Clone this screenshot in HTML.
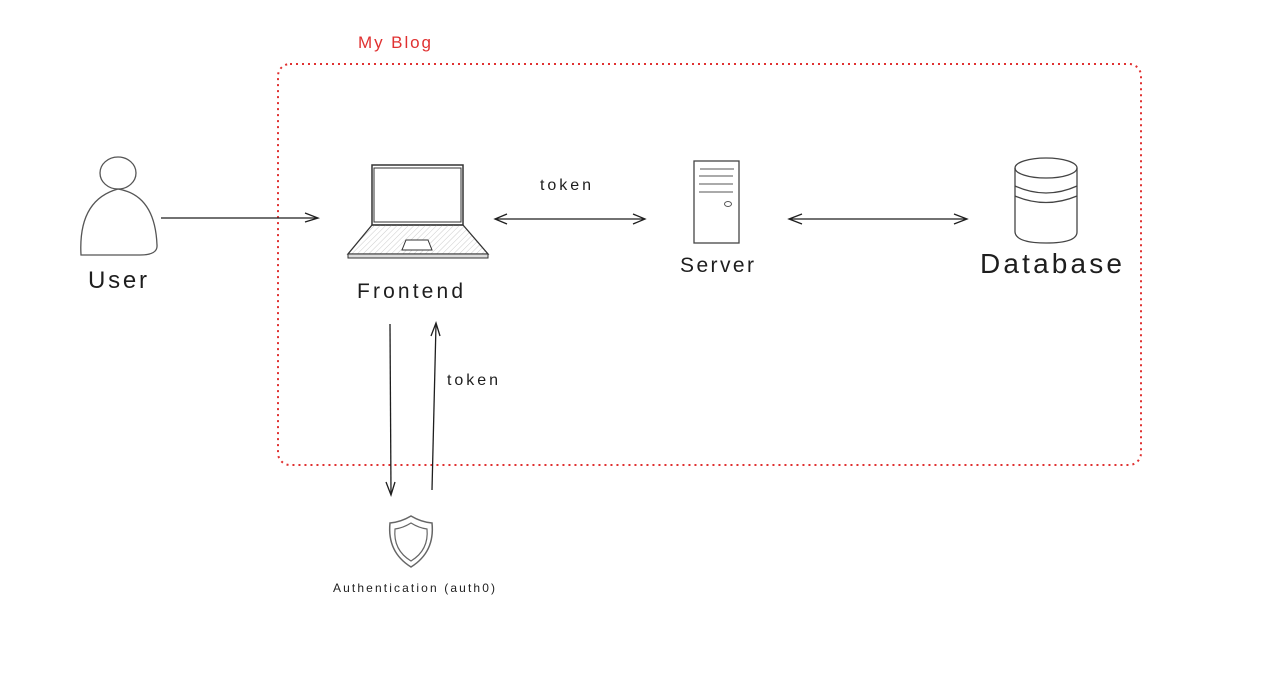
<!DOCTYPE html>
<html><head><meta charset="utf-8"><style>
html,body{margin:0;padding:0;background:#fff;width:1270px;height:684px;overflow:hidden}
text{font-family:"Liberation Sans",sans-serif;fill:#1e1e1e}
</style></head><body>
<svg width="1270" height="684" viewBox="0 0 1270 684" xmlns="http://www.w3.org/2000/svg">
<defs>
<pattern id="h" width="4" height="4" patternUnits="userSpaceOnUse" patternTransform="rotate(45)"><line x1="0" y1="0" x2="0" y2="4" stroke="#ccc" stroke-width="1"/></pattern>
</defs>
<text x="358" y="48" font-size="17" textLength="73" style="fill:#e03131">My Blog</text>
<rect x="278" y="64" width="863" height="401" rx="12" fill="none" stroke="#e03131" stroke-width="2" stroke-dasharray="2,4"/>
<ellipse cx="118" cy="173" rx="18" ry="16" fill="none" stroke="#555" stroke-width="1.3"/>
<path d="M81 255 Q78 200 118 189 Q155 195 157 245 Q158 255 140 255 Z" fill="none" stroke="#555" stroke-width="1.3"/>
<text x="88" y="288" font-size="24" textLength="59">User</text>
<line x1="161" y1="218" x2="316" y2="218" stroke="#1e1e1e" stroke-width="1.3"/>
<path d="M305 213 L318 218 L305 222" fill="none" stroke="#1e1e1e" stroke-width="1.3"/>
<rect x="372" y="165" width="91" height="60" fill="#fff" stroke="#333" stroke-width="1.5"/>
<rect x="374" y="168" width="87" height="54" fill="none" stroke="#333" stroke-width="1"/>
<path d="M372 225 L463 225 L488 254 L348 254 Z" fill="url(#h)" stroke="#333" stroke-width="1.3"/>
<rect x="348" y="254" width="140" height="4" fill="#ddd" stroke="#333" stroke-width="1"/>
<path d="M406 240 L428 240 L432 250 L402 250 Z" fill="#fff" stroke="#333"/>
<text x="357" y="298" font-size="21" textLength="106">Frontend</text>
<text x="540" y="190" font-size="16" textLength="51">token</text>
<line x1="496" y1="219" x2="644" y2="219" stroke="#1e1e1e" stroke-width="1.3"/>
<path d="M507 214 L495 219 L507 224 M633 214 L645 219 L633 224" fill="none" stroke="#1e1e1e" stroke-width="1.3"/>
<rect x="694" y="161" width="45" height="82" fill="none" stroke="#444" stroke-width="1.3"/>
<path d="M700 169H734M699 176H733M699 184H733M699 192H733" stroke="#555" stroke-width="1"/>
<ellipse cx="728" cy="204" rx="3.5" ry="2.5" fill="none" stroke="#555"/>
<text x="680" y="272" font-size="21" textLength="74">Server</text>
<line x1="790" y1="219" x2="966" y2="219" stroke="#1e1e1e" stroke-width="1.3"/>
<path d="M802 214 L789 219 L802 224 M954 214 L967 219 L954 224" fill="none" stroke="#1e1e1e" stroke-width="1.3"/>
<path d="M1015 168 L1015 232 Q1016 243 1046 243 Q1077 243 1077 232 L1077 168" fill="none" stroke="#444" stroke-width="1.3"/>
<ellipse cx="1046" cy="168" rx="31" ry="10" fill="none" stroke="#444" stroke-width="1.3"/>
<path d="M1015 186 Q1046 200 1077 186 M1015 196 Q1046 209 1077 196" fill="none" stroke="#444" stroke-width="1.3"/>
<text x="980" y="273" font-size="28" textLength="142">Database</text>
<line x1="390" y1="324" x2="391" y2="494" stroke="#1e1e1e" stroke-width="1.3"/>
<path d="M386 482 L391 495 L395 482" fill="none" stroke="#1e1e1e" stroke-width="1.3"/>
<line x1="432" y1="490" x2="436" y2="324" stroke="#1e1e1e" stroke-width="1.3"/>
<path d="M431 336 L436 323 L440 336" fill="none" stroke="#1e1e1e" stroke-width="1.3"/>
<text x="447" y="385" font-size="16" textLength="51">token</text>
<path d="M390 523 Q401 522 411 516 Q421 522 432 523 Q435 552 411 567 Q387 552 390 523 Z" fill="none" stroke="#666" stroke-width="1.5"/>
<path d="M395 529 Q403 528 411 523 Q419 528 427 529 Q429 550 411 561 Q393 550 395 529 Z" fill="none" stroke="#666" stroke-width="1.2"/>
<text x="333" y="592" font-size="12" textLength="162">Authentication (auth0)</text>
</svg>
</body></html>
